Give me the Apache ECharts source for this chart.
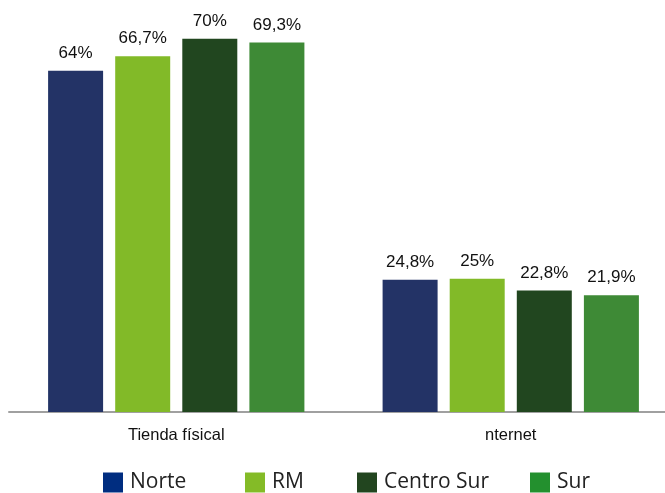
<!DOCTYPE html>
<html>
<head>
<meta charset="utf-8">
<script src="https://cdn.jsdelivr.net/npm/echarts@6/dist/echarts.min.js"></script>
<style>
  html, body { margin: 0; padding: 0; background: #fff; }
  #chart { width: 665px; height: 493px; }
</style>
</head>
<body>
<div id="chart"></div>
<script>
// Canales de compra por zona
const categories = ['Tienda físical', 'nternet'];
const seriesNames = ['Norte', 'RM', 'Centro Sur', 'Sur'];
const norte = [64, 24.8];
const rm = [66.7, 25];
const centroSur = [70, 22.8];
const sur = [69.3, 21.9];

const barColors = ['#233366', '#82ba28', '#21461f', '#3e8a36'];
const legendColors = ['#002d80', '#84bb27', '#22451f', '#23902e'];
const legendLeft = [103, 245, 357, 530];

const values = [norte, rm, centroSur, sur];

const fmt = v => String(v).replace('.', ',') + '%';

const chart = echarts.init(document.getElementById('chart'));
chart.setOption({
  animation: false,
  // plot area runs past the right edge of the canvas
  grid: { left: 9, top: 12, width: 669, height: 400, outerBoundsMode: 'none', containLabel: false },
  xAxis: {
    type: 'category',
    data: categories,
    axisLine: { lineStyle: { color: '#a0a0a0', width: 2 } },
    axisTick: { show: false },
    axisLabel: { color: '#111', fontFamily: 'Liberation Sans, Arial', fontSize: 16.5, margin: 15 }
  },
  yAxis: { type: 'value', min: 0, max: 75, show: false, splitLine: { show: false } },
  legend: seriesNames.map((n, i) => ({
    left: legendLeft[i],
    top: 472,
    padding: 0,
    itemWidth: 20,
    itemHeight: 20,
    itemGap: 0,
    icon: 'rect',
    textStyle: { fontFamily: 'Open Sans', fontSize: 21, color: '#222', padding: [0, 0, 0, 2] },
    data: [{ name: n, itemStyle: { color: legendColors[i] } }]
  })),
  series: seriesNames.map((n, i) => ({
    name: n,
    type: 'bar',
    data: values[i],
    barWidth: 55,
    barGap: '22%',
    itemStyle: { color: barColors[i] },
    label: {
      show: true,
      position: 'top',
      distance: 9,
      formatter: p => fmt(p.value),
      fontFamily: 'Liberation Sans, Arial',
      fontSize: 17,
      color: '#111'
    }
  }))
});
</script>
</body>
</html>
